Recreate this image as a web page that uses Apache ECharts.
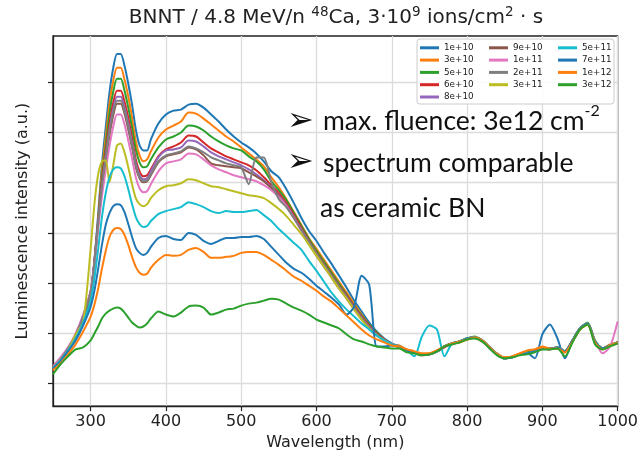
<!DOCTYPE html>
<html><head><meta charset="utf-8">
<script src="https://cdn.jsdelivr.net/npm/echarts@6/dist/echarts.min.js"></script>
<style>html,body{margin:0;padding:0;background:#fff}#c{width:641px;height:456px}</style>
</head><body><div id="c"></div>
<script>
// Wavelength grid (nm)
const wavelength = [250,260,270,280,290,300,
 305,310,315,320,325,330,335,340,345,350,355,360,365,370,375,380,
 390,400,410,420,430,440,450,460,470,480,490,500,510,520,530,540,550,560,570,580,590,600,610,620,630,640,650,660,670,680,690,700,
 710,720,730,740,750,760,770,780,790,800,810,820,830,840,850,860,870,880,890,900,910,920,930,940,950,960,970,980,990,1000];

const fluenceLabels = ['1e+10','3e+10','5e+10','6e+10','8e+10','9e+10','1e+11','2e+11','3e+11','5e+11','7e+11','1e+12','3e+12'];

// Luminescence intensity (a.u.)
const f1e10 = [40,48,58,70,86,112,
 146,193,243,280,315,340,354,354,342,324,303,278,262,257,257,268,
 284,293,297,298,303,304,300,293,286,278,271,265,260,254,246,236,230,218,204,189,176,166,154,143,131,119,106,95,84,75,68,63,
 60,56,54,52,52,55,60,63,65,68,69,66,59,52,48,49,52,53,48,72,82,68,48,66,78,83,65,58,61,64];
const f3e10 = [39,47,57,69,86,111,
 143,188,236,270,304,327,340,340,328,311,290,266,252,246,248,256,
 270,278,282,286,295,294,289,283,277,271,266,260,254,248,241,230,220,208,195,182,169,158,147,136,125,114,103,92,82,74,67,62,
 61,57,55,52,53,56,60,63,64,67,69,66,59,53,49,50,53,55,57,60,58,58,54,65,77,82,64,58,62,64];
const f5e10 = [39,47,57,69,87,112,
 143,186,230,262,294,316,329,329,317,300,280,258,245,240,241,248,
 260,268,271,275,282,281,277,271,266,262,259,257,251,246,238,226,217,207,194,181,168,156,145,134,123,112,101,91,82,74,67,62,
 60,56,53,52,52,55,60,63,65,68,70,66,59,52,48,49,52,54,56,58,58,59,55,66,78,84,66,58,61,64];
const f6e10 = [40,48,58,71,90,115,
 146,186,226,256,284,305,317,317,306,290,270,248,236,231,232,238,
 251,258,261,265,272,271,265,259,255,251,248,245,242,237,230,222,214,204,192,179,166,154,143,132,121,111,100,90,81,73,67,62,
 59,56,54,51,52,55,59,63,65,68,69,65,59,52,48,49,52,53,55,58,57,59,55,66,78,83,65,58,61,63];
const f8e10 = [39,47,58,71,90,115,
 145,184,222,251,278,299,311,311,300,284,265,244,232,228,229,236,
 250,257,258,260,267,266,261,255,251,248,245,242,238,233,227,220,212,202,190,177,165,153,142,131,120,110,99,89,80,72,66,62,
 60,55,54,52,52,55,60,62,65,68,69,66,58,52,48,49,52,53,55,58,58,58,55,66,78,83,65,58,61,64];
const f9e10 = [39,47,58,71,90,115,
 144,182,218,246,272,292,304,304,294,278,260,240,229,225,226,232,
 245,251,253,255,260,258,252,244,242,241,240,239,235,231,226,219,211,201,189,177,164,152,141,130,119,109,98,88,79,72,66,62,
 60,56,54,52,52,55,60,63,65,68,69,66,59,52,48,49,52,53,55,58,58,59,55,66,78,83,65,58,61,64];
const f1e11 = [40,49,59,73,92,116,
 143,178,211,237,261,281,293,293,283,267,249,230,219,215,216,223,
 236,244,246,248,254,253,248,242,238,235,232,230,228,226,222,217,210,201,189,176,163,151,140,129,118,108,97,87,78,71,66,62,
 60,56,54,52,52,55,60,63,65,68,69,66,59,52,48,49,52,53,55,58,58,59,55,66,78,83,65,53,60,85];
const f2e11 = [39,47,58,71,90,115,
 145,184,221,249,276,296,307,307,297,281,262,242,230,226,227,233,
 246,252,254,256,261,259,255,250,247,244,242,240,223,250,250,225,208,200,189,177,165,153,142,131,120,109,98,88,79,72,66,62,
 60,56,54,52,52,55,60,63,65,68,69,66,59,52,48,49,52,53,55,58,58,59,55,66,78,83,65,58,61,64];
const f3e11 = [38,46,56,72,84,158,
 203,233,246,247,225,242,262,264,255,240,223,209,203,201,203,209,
 217,221,222,224,228,227,224,221,220,218,216,214,212,211,209,204,198,191,182,173,162,151,140,129,118,108,97,87,78,71,66,62,
 60,56,54,52,52,55,60,63,65,68,69,66,59,52,48,49,52,53,55,58,58,59,55,66,78,83,65,58,61,64];
const f5e11 = [38,46,56,68,84,106,
 128,158,190,214,230,238,240,239,231,218,203,190,183,180,181,186,
 193,196,198,200,205,203,200,196,194,196,195,195,196,197,192,186,178,171,164,157,146,136,125,114,105,97,90,83,77,71,66,62,
 60,56,50,70,81,77,50,63,65,68,69,66,59,52,48,49,52,53,55,58,58,59,55,66,78,83,65,58,61,64];
const f7e11 = [38,45,55,66,81,100,
 116,138,162,182,194,201,203,202,195,183,170,159,154,152,154,160,
 169,171,168,167,174,172,166,163,166,169,169,170,170,171,168,160,152,144,138,134,128,121,115,109,102,92,100,131,122,60,60,61,
 60,56,54,52,52,55,60,63,65,68,69,66,59,52,48,49,52,53,55,58,58,59,55,66,78,83,65,58,61,64];
const f1e12 = [36,43,52,62,75,90,
 102,118,138,156,170,177,179,178,172,162,150,140,134,132,133,139,
 147,152,151,152,157,159,155,149,149,150,151,154,155,155,152,147,142,136,130,126,121,116,110,105,98,91,84,77,71,67,64,61,
 60,57,55,53,53,56,60,63,65,67,69,66,59,52,49,50,53,56,57,59,58,58,54,65,77,82,64,57,61,64];
const f3e12 = [32,42,50,57,59,66,
 73,80,88,93,96,98,99,98,94,89,84,81,79,80,83,88,
 95,92,90,94,100,101,99,92,94,97,98,101,103,104,106,108,107,103,99,96,92,87,84,81,78,72,67,65,62,60,59,58,
 58,54,53,51,52,55,60,62,64,67,68,65,58,51,48,49,51,52,54,57,57,58,50,64,77,82,62,57,60,63];

const seriesValues = [f1e10,f3e10,f5e10,f6e10,f8e10,f9e10,f1e11,f2e11,f3e11,f5e11,f7e11,f1e12,f3e12];
const colors = ['#1f77b4','#ff7f0e','#2ca02c','#d62728','#9467bd','#8c564b','#e377c2','#7f7f7f','#bcbd22','#17becf','#1f77b4','#ff7f0e','#2ca02c'];

const xTicks = [300,400,500,600,700,800,900,1000];
const yTicks = [22.5,73,123.5,174,224.5,275,325.5];

const chart = echarts.init(document.getElementById('c'), null, {renderer:'canvas'});

const series = seriesValues.map((vals, k) => ({
  name: fluenceLabels[k],
  type: 'line',
  data: wavelength.map((w, i) => [w, vals[i]]),
  showSymbol: false,
  symbol: 'none',
  smooth: 0.25,
  lineStyle: {width: 2, color: colors[k]},
  itemStyle: {color: colors[k]},
  z: 2,
  animation: false
}));

const legendCols = [[0,1,2,3,4],[5,6,7,8],[9,10,11,12]];
const legendLefts = [420, 489, 558];
const legends = legendCols.map((idx, c) => ({
  orient: 'vertical',
  left: legendLefts[c],
  top: 43.3,
  padding: 0,
  itemGap: 3.3,
  itemWidth: 19,
  itemHeight: 3,
  icon: 'rect',
  selectedMode: false,
  data: idx.map(i => fluenceLabels[i]),
  textStyle: {fontSize: 8.8, fontFamily: 'DejaVu Sans', color: '#222', lineHeight: 9},
  z: 6
}));

const axisFont = {fontSize: 16, fontFamily: 'DejaVu Sans', color: '#222'};

chart.setOption({
  backgroundColor: '#fff',
  animation: false,
  grid: {left: 53, right: 22, top: 36, bottom: 48, show: true, borderColor: '#222', borderWidth: 1.3, containLabel: false},
  xAxis: {
    type: 'value', min: 250, max: 1000,
    name: 'Wavelength (nm)', nameLocation: 'middle', nameGap: 28,
    nameTextStyle: axisFont,
    axisLine: {show: true, lineStyle: {color: '#222', width: 1.3}},
    axisTick: {show: true, inside: false, length: 5, customValues: xTicks, lineStyle: {color: '#222', width: 1.2}},
    axisLabel: {show: true, margin: 8, customValues: xTicks, formatter: v => String(v), ...axisFont},
    splitLine: {show: true, lineStyle: {color: '#dcdcdc', width: 1.3}}
  },
  yAxis: {
    type: 'value', min: 0, max: 372,
    name: 'Luminescence intensity (a.u.)', nameLocation: 'middle', nameGap: 22,
    nameTextStyle: axisFont,
    axisLine: {show: true, lineStyle: {color: '#222', width: 1.3}},
    axisTick: {show: true, inside: false, length: 5, customValues: yTicks, lineStyle: {color: '#222', width: 1.2}},
    axisLabel: {show: false, customValues: yTicks},
    splitLine: {show: true, lineStyle: {color: '#dcdcdc', width: 1.3}}
  },
  legend: legends,
  series: series,
  graphic: [
    {type: 'rect', silent: true, z: 5,
     shape: {x: 417, y: 39, width: 197, height: 65, r: 3},
     style: {fill: 'rgba(255,255,255,0.85)', stroke: '#cccccc', lineWidth: 1}},
    {type: 'text', silent: true, z: 10, x: 336, y: 5,
     style: {
       text: '{a|BNNT / 4.8 MeV/n }{s|48}{a|Ca, 3·10}{s|9}{a| ions/cm}{s|2}{a| · s}',
       align: 'center', textAlign: 'center', verticalAlign: 'top', textVerticalAlign: 'top',
       rich: {
         a: {fontSize: 20, fontFamily: 'DejaVu Sans', fill: '#222', color: '#222', lineHeight: 23, verticalAlign: 'bottom'},
         s: {fontSize: 13.5, fontFamily: 'DejaVu Sans', fill: '#222', color: '#222', lineHeight: 13, verticalAlign: 'top'}
       }
     }},
    {type: 'text', silent: true, z: 10, x: 287, y: 121.5,
     style: {text: '➢', fontSize: 32, fontFamily: 'DejaVu Sans', fill: '#111', verticalAlign: 'middle', textVerticalAlign: 'middle'}},
    {type: 'text', silent: true, z: 10, x: 287, y: 163,
     style: {text: '➢', fontSize: 32, fontFamily: 'DejaVu Sans', fill: '#111', verticalAlign: 'middle', textVerticalAlign: 'middle'}},
    {type: 'text', silent: true, z: 10, x: 323, y: 103,
     style: {
       text: '{m|max. fluence: 3e12 cm}{p|-2}',
       verticalAlign: 'top', textVerticalAlign: 'top',
       rich: {
         m: {fontSize: 26.5, fontFamily: 'Lato', fill: '#111', color: '#111', lineHeight: 32, verticalAlign: 'bottom'},
         p: {fontSize: 16, fontFamily: 'Lato', fill: '#111', color: '#111', lineHeight: 19, verticalAlign: 'top'}
       }
     }},
    {type: 'text', silent: true, z: 10, x: 323, y: 163,
     style: {text: 'spectrum comparable', fontSize: 26.5, fontFamily: 'Lato', fill: '#111', verticalAlign: 'middle', textVerticalAlign: 'middle'}},
    {type: 'text', silent: true, z: 10, x: 320, y: 208,
     style: {text: 'as ceramic BN', fontSize: 26.5, fontFamily: 'Lato', fill: '#111', verticalAlign: 'middle', textVerticalAlign: 'middle'}}
  ]
});
</script></body></html>
